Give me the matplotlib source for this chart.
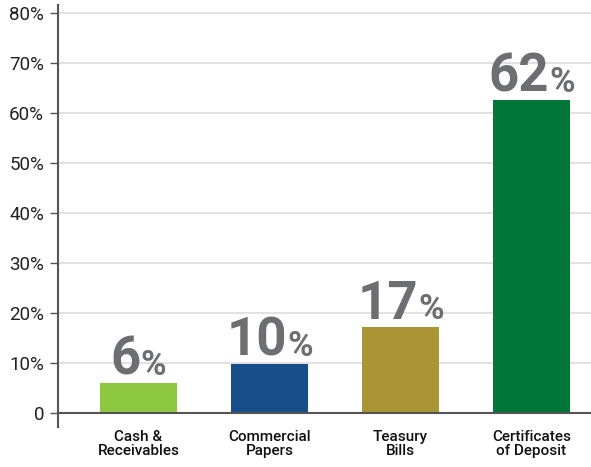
import numpy as np
import matplotlib.pyplot as plt

# data
categories = ['Cash &\nReceivables', 'Commercial\nPapers', 'Teasury\nBills', 'Certificates\nof Deposit']
heights = [6.1, 9.9, 17.2, 62.7]
value_labels = ['6', '10', '17', '62']
colors = ['#8dc63f', '#1a4e8a', '#a99535', '#007638']
yticks = [0, 10, 20, 30, 40, 50, 60, 70, 80]
ytick_labels = ['0', '10%', '20%', '30%', '40%', '50%', '60%', '70%', '80%']

plt.rcParams['font.family'] = ['Roboto', 'DejaVu Sans']

fig = plt.figure(figsize=(5.91, 4.67), dpi=100)
ax = fig.add_axes([58/591, 40/467, 533/591, 422/467])

x = np.arange(len(categories))
ax.bar(x, heights, width=0.59, color=colors, zorder=3)

ax.set_xlim(-0.615, 3.454)
ax.set_ylim(-2.8, 81.6)

ax.set_yticks(yticks)
ax.set_yticklabels(ytick_labels, fontsize=13.5, color='#222222')
ax.tick_params(axis='y', length=6, width=1, color='#555555', pad=4)
ax.set_xticks(x)
ax.set_xticklabels(categories, fontsize=11, fontweight='medium', color='#111111', linespacing=1.0)
ax.tick_params(axis='x', length=0, pad=2.5)

for y in yticks[1:]:
    ax.axhline(y, color='#dcdcdc', lw=1.2, zorder=1)
ax.axhline(0, color='#555555', lw=1.5, zorder=4)

for s in ['top', 'right', 'bottom']:
    ax.spines[s].set_visible(False)
ax.spines['left'].set_color('#555555')
ax.spines['left'].set_linewidth(1.5)

# value labels: big number + smaller %
fig.canvas.draw()
r = fig.canvas.get_renderer()
big = dict(fontsize=38, fontweight='bold', color='#6d6e71')
small = dict(fontsize=25, fontweight='bold', color='#6d6e71')
for xi, h, lab in zip(x, heights, value_labels):
    t1 = ax.annotate(lab, (xi, h), xytext=(0, 6), textcoords='offset points',
                     ha='left', va='baseline', **big)
    t2 = ax.annotate('%', (xi, h), xytext=(0, 6), textcoords='offset points',
                     ha='left', va='baseline', **small)
    w1 = t1.get_window_extent(r).width
    w2 = t2.get_window_extent(r).width
    tot = w1 + w2
    t1.set_position((-tot / 2 * 72 / fig.dpi, 5.5))
    t2.set_position(((-tot / 2 + w1) * 72 / fig.dpi, 5.5))

fig.savefig('out.png', dpi=100)
